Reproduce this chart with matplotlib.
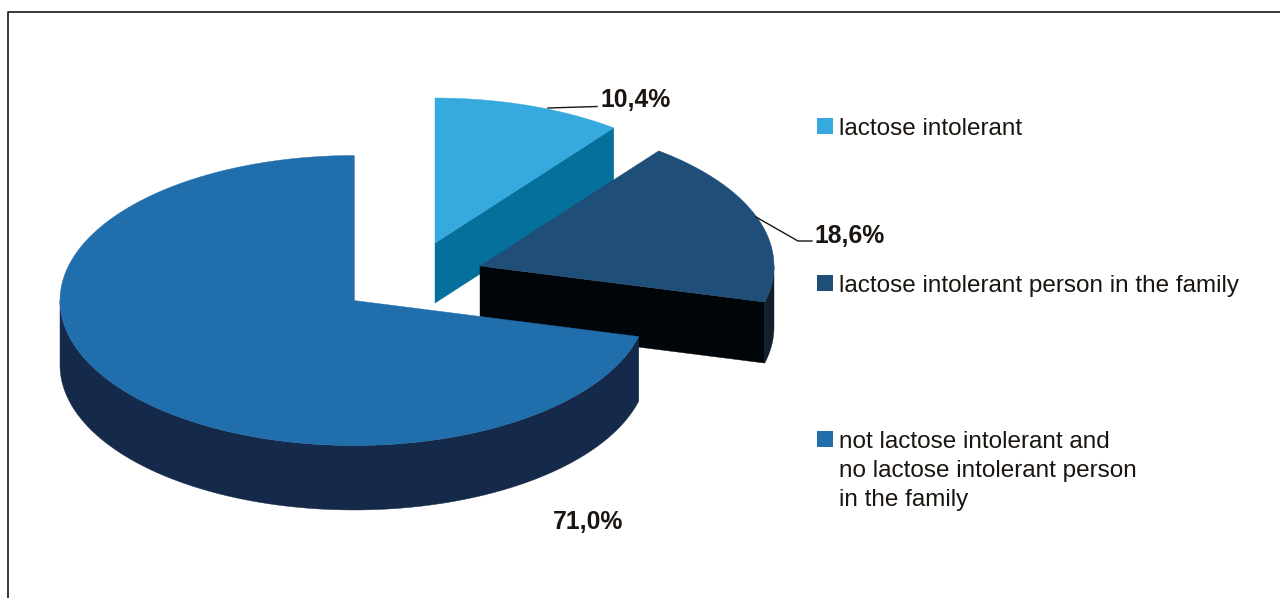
#!/usr/bin/env python3
"""Exploded pseudo-3D pie chart of lactose intolerance shares."""

import matplotlib
matplotlib.use("Agg")
import matplotlib.pyplot as plt
import numpy as np
from matplotlib.patches import Polygon, Rectangle

categories = [
    "lactose intolerant",
    "lactose intolerant person in the family",
    "not lactose intolerant and\nno lactose intolerant person\nin the family",
]
shares = [10.4, 18.6, 71.0]
share_labels = ["10,4%", "18,6%", "71,0%"]

top_colors = ["#36A9DE", "#1F4E79", "#216EAD"]
cut_colors = ["#05709B", "#000509", "#152A4A"]
rim_colors = ["#05709B", "#12202E", "#152A4A"]
centers = [(435, 243), (480, 266), (354, 300.5)]
depths = [60, 61, 64.5]

RX, RY = 294, 145
START = 90.0  # slices run clockwise from 12 o'clock


def ellipse_pts(c, a0, a1, n=200):
    t = np.radians(np.linspace(a0, a1, n))
    return np.column_stack([c[0] + RX * np.cos(t), c[1] - RY * np.sin(t)])


def draw_slice(ax, c, a0, a1, depth, top, cut, rim):
    # a0 > a1, going clockwise
    down = np.array([0, depth])
    arc = ellipse_pts(c, a0, a1)
    # cut face at the trailing edge, the only one facing the viewer
    p = ellipse_pts(c, a1, a1, 1)[0]
    ax.add_patch(Polygon([c, p, p + down, np.array(c) + down],
                         fc=cut, ec=cut, lw=0.3))
    # outer rim, only the lower half of the ellipse can be seen
    lo, hi = max(a1, -180), min(a0, 0)
    if a1 < 0 and hi > lo:
        rim_arc = ellipse_pts(c, hi, lo)
        ax.add_patch(Polygon(np.vstack([rim_arc, (rim_arc + down)[::-1]]),
                             fc=rim, ec=rim, lw=0.3))
    ax.add_patch(Polygon(np.vstack([[c], arc]), fc=top, ec=top, lw=0.3))


def main():
    plt.rcParams["font.family"] = ["Liberation Sans", "DejaVu Sans"]
    fig = plt.figure(figsize=(12.8, 5.98), dpi=100)
    ax = fig.add_axes([0, 0, 1, 1])
    ax.set_xlim(0, 1280)
    ax.set_ylim(598, 0)
    ax.axis("off")

    # page frame, open on the right and bottom
    ax.plot([8, 8, 1280], [598, 12, 12], color="#1a1510", lw=1.2)

    # leader lines go under the slices
    ax.plot([548, 597], [108, 106.5], color="#1a1510", lw=1)
    ax.plot([756, 798, 812], [217, 241, 241], color="#1a1510", lw=1)

    edges = START - np.cumsum([0] + shares) * 3.6
    for i in range(3):
        draw_slice(ax, centers[i], edges[i], edges[i + 1], depths[i],
                   top_colors[i], cut_colors[i], rim_colors[i])

    label_pos = [(601, 100), (814, 236), (553, 522)]
    for text, (x, y) in zip(share_labels, label_pos):
        ax.text(x, y, text, fontsize=17.8, fontweight="bold", color="#1a1510",
                ha="left", va="center")

    legend_pos = [(817, 118), (817, 275), (817, 431)]
    for name, col, (x, y) in zip(categories, top_colors, legend_pos):
        ax.add_patch(Rectangle((x, y), 16, 16, fc=col, ec="none"))
        ax.text(x + 22, y, name, fontsize=17.45, color="#1a1510", ha="left",
                va="top", linespacing=1.41)

    fig.savefig("out.png", dpi=100)
    plt.close()


if __name__ == "__main__":
    main()
